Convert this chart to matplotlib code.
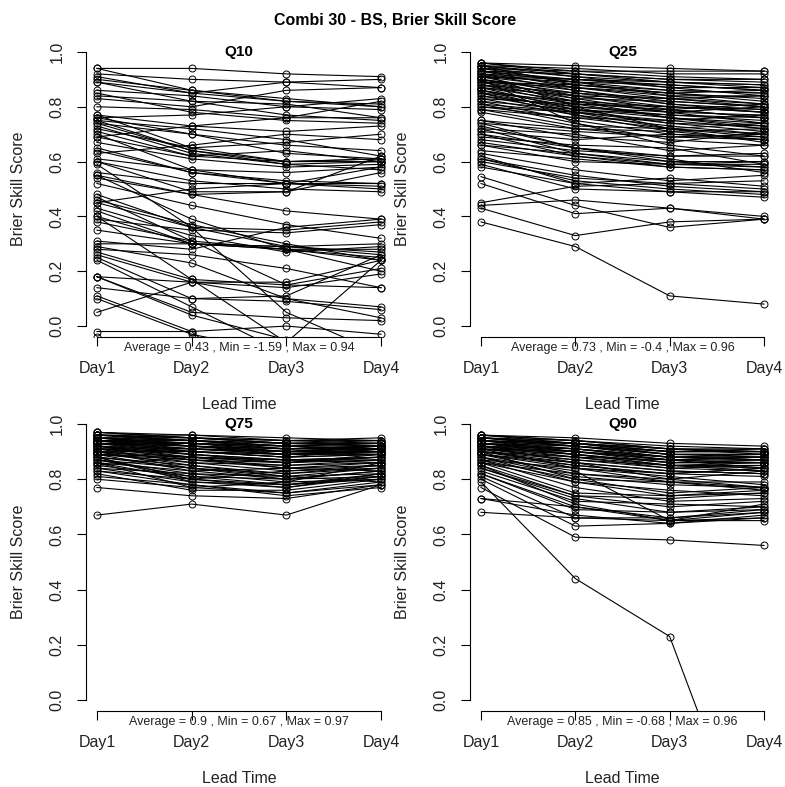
import numpy as np
import matplotlib
matplotlib.use("Agg")
import matplotlib.pyplot as plt

plt.rcParams['font.family'] = ['Liberation Sans', 'DejaVu Sans']

# Lead times shown on the x axis.
DAYS = ['Day1', 'Day2', 'Day3', 'Day4']

# Brier skill score per station, one row = one station (Day1..Day4).
Q10 = [
    [0.94, 0.94, 0.92, 0.91], [0.94, 0.86, 0.83, 0.80], [0.92, 0.90, 0.89, 0.90],
    [0.90, 0.86, 0.82, 0.81], [0.89, 0.85, 0.89, 0.87], [0.89, 0.82, 0.81, 0.76],
    [0.86, 0.84, 0.80, 0.83], [0.84, 0.82, 0.77, 0.75], [0.83, 0.80, 0.86, 0.87],
    [0.80, 0.79, 0.76, 0.82], [0.77, 0.73, 0.71, 0.73], [0.77, 0.65, 0.60, 0.61],
    [0.76, 0.77, 0.80, 0.79], [0.75, 0.72, 0.68, 0.62], [0.75, 0.64, 0.60, 0.60],
    [0.74, 0.70, 0.66, 0.64], [0.73, 0.63, 0.59, 0.57], [0.72, 0.65, 0.67, 0.70],
    [0.71, 0.62, 0.64, 0.60], [0.70, 0.57, 0.52, 0.51], [0.69, 0.73, 0.76, 0.76],
    [0.67, 0.61, 0.58, 0.59], [0.64, 0.56, 0.53, 0.52], [0.63, 0.66, 0.70, 0.68],
    [0.61, 0.57, 0.56, 0.58], [0.60, 0.53, 0.50, 0.49], [0.60, 0.49, 0.49, 0.62],
    [0.59, 0.36, 0.05, -0.10], [0.56, 0.52, 0.52, 0.52], [0.55, 0.48, 0.42, 0.39],
    [0.55, 0.39, 0.28, 0.25], [0.52, 0.44, 0.37, 0.32], [0.48, 0.36, 0.35, 0.38],
    [0.47, 0.31, 0.28, 0.20], [0.46, 0.37, 0.30, 0.24], [0.45, 0.50, 0.52, 0.58],
    [0.43, 0.33, 0.27, 0.29], [0.42, 0.30, 0.29, 0.30], [0.39, 0.35, 0.34, 0.37],
    [0.38, 0.31, 0.15, 0.14], [0.35, 0.30, 0.29, 0.26], [0.31, 0.28, 0.36, 0.39],
    [0.30, 0.30, 0.28, 0.28], [0.29, 0.23, 0.10, 0.03], [0.28, 0.26, 0.21, 0.14],
    [0.27, 0.17, 0.15, 0.21], [0.26, 0.16, 0.14, 0.19], [0.25, 0.10, 0.09, 0.06],
    [0.24, 0.07, -0.10, -0.25], [0.18, 0.16, 0.16, 0.24], [0.18, 0.05, 0.03, 0.02],
    [0.18, 0.04, -0.05, -0.20], [0.14, 0.10, 0.11, 0.26], [0.11, -0.02, -0.30, -0.50],
    [0.10, -0.03, -0.10, -0.40], [0.05, 0.16, 0.10, 0.07], [-0.02, -0.02, 0.00, -0.03],
    [-0.04, -0.30, -1.59, -0.80], [0.40, 0.17, -0.06, 0.24],
    [0.91, 0.85, 0.82, 0.80], [0.85, 0.78, 0.75, 0.74], [0.76, 0.70, 0.63, 0.61],
    [0.74, 0.64, 0.59, 0.60], [0.69, 0.62, 0.60, 0.61], [0.65, 0.56, 0.52, 0.50],
    [0.54, 0.48, 0.49, 0.56], [0.45, 0.36, 0.29, 0.27], [0.40, 0.30, 0.28, 0.24],
]

Q25 = [
    [0.38, 0.29, 0.11, 0.08], [0.43, 0.33, 0.38, 0.39], [0.45, 0.51, 0.52, 0.53],
    [0.44, 0.46, 0.43, 0.39], [0.52, 0.41, 0.43, 0.40], [0.545, 0.44, 0.36, 0.39],
    [0.58, 0.52, 0.49, 0.49], [0.59, 0.50, 0.49, 0.47], [0.60, 0.54, 0.52, 0.50],
    [0.61, 0.53, 0.50, 0.48], [0.62, 0.52, 0.54, 0.51], [0.63, 0.57, 0.53, 0.55],
    [0.64, 0.61, 0.58, 0.57], [0.66, 0.63, 0.60, 0.58], [0.67, 0.62, 0.59, 0.60],
    [0.68, 0.64, 0.62, 0.62], [0.69, 0.66, 0.65, 0.59], [0.70, 0.65, 0.61, 0.56],
    [0.71, 0.68, 0.70, 0.69], [0.72, 0.70, 0.64, 0.66], [0.73, 0.65, 0.60, 0.60],
    [0.74, 0.71, 0.69, 0.68], [0.75, 0.69, 0.67, 0.71], [0.75, 0.72, 0.71, 0.72],
    [0.79, 0.76, 0.72, 0.70], [0.80, 0.78, 0.74, 0.73],
    [0.96, 0.95, 0.94, 0.93], [0.96, 0.93, 0.91, 0.90], [0.95, 0.94, 0.92, 0.92],
    [0.95, 0.92, 0.90, 0.89], [0.94, 0.91, 0.89, 0.88], [0.94, 0.93, 0.93, 0.93],
    [0.93, 0.90, 0.88, 0.86], [0.93, 0.89, 0.86, 0.85], [0.92, 0.90, 0.87, 0.87],
    [0.92, 0.88, 0.85, 0.83], [0.91, 0.87, 0.84, 0.84], [0.91, 0.89, 0.88, 0.86],
    [0.90, 0.86, 0.82, 0.80], [0.90, 0.85, 0.83, 0.81], [0.89, 0.87, 0.85, 0.82],
    [0.89, 0.84, 0.80, 0.78], [0.88, 0.85, 0.81, 0.79], [0.88, 0.83, 0.82, 0.80],
    [0.87, 0.82, 0.78, 0.77], [0.87, 0.84, 0.83, 0.84], [0.86, 0.81, 0.79, 0.76],
    [0.86, 0.80, 0.77, 0.75], [0.85, 0.82, 0.80, 0.78], [0.85, 0.79, 0.76, 0.74],
    [0.84, 0.80, 0.78, 0.80], [0.84, 0.78, 0.75, 0.72], [0.83, 0.81, 0.80, 0.79],
    [0.83, 0.77, 0.73, 0.70], [0.82, 0.79, 0.77, 0.76], [0.82, 0.75, 0.70, 0.68],
    [0.81, 0.78, 0.79, 0.81], [0.81, 0.74, 0.68, 0.66], [0.80, 0.76, 0.75, 0.77],
    [0.79, 0.73, 0.72, 0.74], [0.78, 0.72, 0.69, 0.70], [0.90, 0.74, 0.66, 0.62],
    [0.92, 0.80, 0.72, 0.67], [0.95, 0.88, 0.85, 0.86],
    [0.96, 0.92, 0.89, 0.87], [0.95, 0.91, 0.87, 0.84], [0.94, 0.89, 0.84, 0.81],
    [0.93, 0.87, 0.83, 0.80], [0.92, 0.86, 0.81, 0.78], [0.91, 0.84, 0.79, 0.76],
    [0.90, 0.83, 0.78, 0.74], [0.89, 0.82, 0.76, 0.72], [0.88, 0.81, 0.76, 0.73],
    [0.87, 0.79, 0.74, 0.71], [0.86, 0.78, 0.72, 0.69], [0.85, 0.77, 0.71, 0.68],
    [0.93, 0.92, 0.90, 0.90], [0.91, 0.90, 0.89, 0.88], [0.89, 0.88, 0.86, 0.85],
    [0.74, 0.65, 0.62, 0.63], [0.72, 0.63, 0.59, 0.58], [0.70, 0.62, 0.58, 0.57],
    [0.66, 0.60, 0.59, 0.59], [0.61, 0.55, 0.51, 0.49],
]

Q75 = [
    [0.67, 0.71, 0.67, 0.78], [0.77, 0.74, 0.73, 0.78], [0.80, 0.77, 0.75, 0.79],
    [0.81, 0.78, 0.74, 0.77], [0.82, 0.76, 0.76, 0.80], [0.83, 0.80, 0.78, 0.81],
    [0.84, 0.79, 0.77, 0.82], [0.85, 0.81, 0.80, 0.83], [0.86, 0.83, 0.84, 0.85],
    [0.86, 0.77, 0.79, 0.80], [0.87, 0.84, 0.81, 0.84], [0.87, 0.82, 0.79, 0.86],
    [0.88, 0.85, 0.82, 0.85], [0.88, 0.80, 0.83, 0.84], [0.89, 0.86, 0.85, 0.87],
    [0.89, 0.88, 0.84, 0.83], [0.90, 0.87, 0.86, 0.88], [0.90, 0.85, 0.81, 0.82],
    [0.91, 0.89, 0.87, 0.88], [0.91, 0.88, 0.86, 0.89], [0.92, 0.90, 0.88, 0.89],
    [0.92, 0.89, 0.87, 0.86], [0.93, 0.91, 0.89, 0.90], [0.93, 0.90, 0.88, 0.91],
    [0.93, 0.92, 0.90, 0.91], [0.94, 0.92, 0.91, 0.92], [0.94, 0.91, 0.90, 0.90],
    [0.94, 0.93, 0.91, 0.91], [0.95, 0.93, 0.92, 0.92], [0.95, 0.94, 0.92, 0.93],
    [0.95, 0.92, 0.90, 0.91], [0.96, 0.95, 0.93, 0.93], [0.96, 0.94, 0.93, 0.92],
    [0.96, 0.95, 0.94, 0.94], [0.97, 0.96, 0.95, 0.94], [0.97, 0.95, 0.94, 0.95],
    [0.96, 0.94, 0.92, 0.90], [0.95, 0.93, 0.90, 0.89], [0.94, 0.90, 0.89, 0.90],
    [0.93, 0.89, 0.86, 0.87], [0.92, 0.87, 0.85, 0.86], [0.91, 0.86, 0.83, 0.85],
    [0.90, 0.84, 0.82, 0.84], [0.89, 0.83, 0.80, 0.81], [0.88, 0.79, 0.78, 0.80],
    [0.95, 0.95, 0.93, 0.92], [0.94, 0.93, 0.92, 0.93], [0.93, 0.93, 0.91, 0.92],
    [0.91, 0.91, 0.89, 0.90], [0.90, 0.90, 0.89, 0.91], [0.85, 0.88, 0.87, 0.88],
    [0.84, 0.82, 0.81, 0.79],
    [0.97, 0.95, 0.93, 0.93], [0.96, 0.96, 0.94, 0.93], [0.96, 0.94, 0.91, 0.91],
    [0.95, 0.94, 0.93, 0.94], [0.95, 0.92, 0.91, 0.92], [0.94, 0.94, 0.92, 0.91],
    [0.94, 0.92, 0.90, 0.92], [0.93, 0.92, 0.89, 0.89], [0.93, 0.91, 0.90, 0.92],
    [0.92, 0.91, 0.90, 0.90], [0.92, 0.88, 0.86, 0.88], [0.91, 0.90, 0.88, 0.89],
    [0.90, 0.88, 0.87, 0.87], [0.89, 0.87, 0.84, 0.86], [0.88, 0.84, 0.80, 0.83],
    [0.87, 0.81, 0.78, 0.82], [0.86, 0.80, 0.77, 0.81], [0.83, 0.78, 0.75, 0.78],
]

Q90 = [
    [0.79, 0.44, 0.23, -0.68], [0.68, 0.66, 0.65, 0.65], [0.77, 0.59, 0.58, 0.56],
    [0.73, 0.70, 0.65, 0.66], [0.73, 0.67, 0.64, 0.67], [0.80, 0.63, 0.64, 0.66],
    [0.81, 0.66, 0.66, 0.69], [0.82, 0.69, 0.68, 0.70], [0.83, 0.72, 0.71, 0.70],
    [0.84, 0.74, 0.70, 0.72], [0.85, 0.74, 0.73, 0.75], [0.85, 0.71, 0.65, 0.68],
    [0.86, 0.75, 0.74, 0.76], [0.86, 0.79, 0.76, 0.74], [0.87, 0.80, 0.79, 0.77],
    [0.87, 0.77, 0.72, 0.73], [0.88, 0.81, 0.78, 0.77], [0.88, 0.83, 0.65, 0.71],
    [0.89, 0.84, 0.81, 0.78], [0.89, 0.82, 0.80, 0.83], [0.90, 0.86, 0.83, 0.82],
    [0.90, 0.85, 0.82, 0.84], [0.91, 0.87, 0.85, 0.83], [0.91, 0.88, 0.84, 0.85],
    [0.92, 0.89, 0.86, 0.86], [0.92, 0.88, 0.87, 0.84], [0.93, 0.90, 0.87, 0.87],
    [0.93, 0.91, 0.88, 0.88], [0.93, 0.89, 0.85, 0.86], [0.94, 0.92, 0.89, 0.89],
    [0.94, 0.91, 0.88, 0.87], [0.94, 0.90, 0.87, 0.88], [0.95, 0.93, 0.90, 0.90],
    [0.95, 0.92, 0.89, 0.88], [0.95, 0.93, 0.91, 0.89], [0.96, 0.94, 0.92, 0.91],
    [0.96, 0.93, 0.90, 0.90], [0.96, 0.95, 0.93, 0.92], [0.95, 0.94, 0.91, 0.91],
    [0.94, 0.93, 0.90, 0.90], [0.93, 0.92, 0.89, 0.89], [0.92, 0.91, 0.88, 0.87],
    [0.91, 0.90, 0.86, 0.86], [0.90, 0.88, 0.85, 0.85], [0.89, 0.86, 0.83, 0.82],
    [0.92, 0.86, 0.80, 0.77], [0.91, 0.84, 0.79, 0.76], [0.90, 0.80, 0.75, 0.77],
    [0.88, 0.79, 0.74, 0.75], [0.87, 0.84, 0.82, 0.81],
    [0.96, 0.94, 0.91, 0.90], [0.95, 0.93, 0.89, 0.89], [0.95, 0.92, 0.90, 0.91],
    [0.94, 0.92, 0.88, 0.88], [0.94, 0.93, 0.91, 0.90], [0.93, 0.91, 0.87, 0.86],
    [0.93, 0.90, 0.88, 0.89], [0.92, 0.90, 0.87, 0.88], [0.92, 0.89, 0.85, 0.84],
    [0.91, 0.89, 0.86, 0.87], [0.90, 0.87, 0.84, 0.83], [0.89, 0.85, 0.82, 0.84],
    [0.84, 0.73, 0.68, 0.69], [0.82, 0.70, 0.66, 0.68], [0.86, 0.82, 0.79, 0.79],
]

PANELS = ['Q10', 'Q25', 'Q75', 'Q90']
DATA = [Q10, Q25, Q75, Q90]
SUMMARY = [
    'Average = 0.43 , Min = -1.59 , Max = 0.94',
    'Average = 0.73 , Min = -0.4 , Max = 0.96',
    'Average = 0.9 , Min = 0.67 , Max = 0.97',
    'Average = 0.85 , Min = -0.68 , Max = 0.96',
]

W, H = 785, 787
fig = plt.figure(figsize=(W / 100, H / 100), dpi=100)

# Plot regions in pixels: (left, top, right, bottom).
boxes = [(85.6, 41, 392.4, 337), (469.7, 41, 775.3, 337),
         (85.6, 413, 392.4, 711), (469.7, 413, 775.3, 711)]

x = np.arange(1, len(DAYS) + 1)
for (l, t, r, b), name, rows, summ in zip(boxes, PANELS, DATA, SUMMARY):
    ax = fig.add_axes([l / W, 1 - b / H, (r - l) / W, (b - t) / H])
    for row in rows:
        ax.plot(x, row, color='black', lw=0.8, marker='o', ms=5,
                mfc='none', mec='black', mew=0.7)
    ax.set_xlim(0.88, 4.12)
    ax.set_ylim(-0.04, 1.04)
    for s in ['top', 'right']:
        ax.spines[s].set_visible(False)
    ax.spines['left'].set_bounds(0, 1)
    ax.spines['bottom'].set_bounds(1, 4)
    ax.set_xticks(x)
    ax.set_xticklabels(DAYS, fontsize=11.5)
    ax.set_yticks(np.arange(0, 1.01, 0.2))
    ax.set_yticklabels(['%.1f' % v for v in np.arange(0, 1.01, 0.2)],
                       rotation=90, va='center', fontsize=11.5)
    ax.tick_params(direction='out', length=6.5, width=0.8, colors='black',
                   labelcolor='#222222')
    ax.tick_params(axis='x', pad=10.5)
    ax.tick_params(axis='y', pad=8.5)
    ax.text(0.5, 0.963, name, transform=ax.transAxes, ha='center',
            va='center', fontsize=11, fontweight='bold')
    ax.text(0.5, -0.038, summ, transform=ax.transAxes, ha='center',
            va='center', fontsize=9, color='#222222')
    ax.text(0.5, -0.228, 'Lead Time', transform=ax.transAxes, ha='center',
            va='center', fontsize=11.5, color='#222222')
    ax.text(-0.22, 0.5, 'Brier Skill Score', transform=ax.transAxes,
            ha='center', va='center', rotation=90, fontsize=11.5,
            color='#222222')

fig.text(0.503, 1 - 20 / H, 'Combi 30 - BS, Brier Skill Score', ha='center',
         va='center', fontsize=11.5, fontweight='bold')

fig.savefig('out.png', dpi=100)
